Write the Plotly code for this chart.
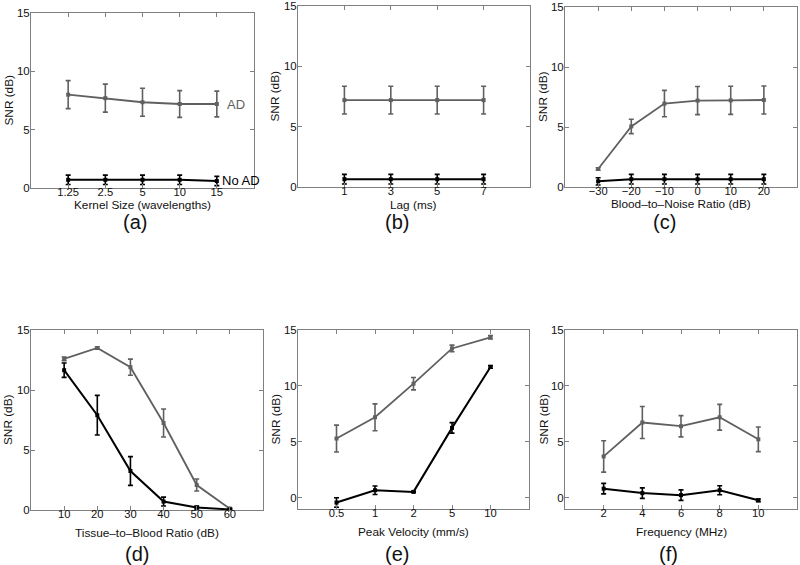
import plotly.graph_objects as go

# ---------------- data ----------------
A_x = ["1.25", "2.5", "5", "10", "15"]
A_ad = [8.0, 7.7, 7.35, 7.2, 7.2]
A_ad_err = [1.2, 1.2, 1.2, 1.15, 1.1]
A_no = [0.7, 0.7, 0.7, 0.7, 0.6]
A_no_err = [0.4, 0.4, 0.4, 0.4, 0.4]

B_x = [1, 3, 5, 7]
B_ad = [7.2, 7.2, 7.2, 7.2]
B_ad_err = [1.15, 1.15, 1.15, 1.15]
B_no = [0.65, 0.65, 0.65, 0.65]
B_no_err = [0.4, 0.4, 0.4, 0.4]

C_x = [-30, -20, -10, 0, 10, 20]
C_ad = [1.5, 5.05, 6.95, 7.2, 7.22, 7.25]
C_ad_err = [0.1, 0.6, 1.1, 1.17, 1.17, 1.17]
C_no = [0.47, 0.65, 0.65, 0.65, 0.65, 0.65]
C_no_err = [0.3, 0.4, 0.4, 0.4, 0.4, 0.4]

D_x = [10, 20, 30, 40, 50, 60]
D_ad = [12.6, 13.5, 11.9, 7.25, 2.08, 0.1]
D_ad_err = [0.15, 0.1, 0.67, 1.17, 0.5, 0.1]
D_no = [11.65, 7.9, 3.25, 0.7, 0.2, 0.05]
D_no_err = [0.6, 1.65, 1.2, 0.37, 0.12, 0.05]

E_x = ["0.5", "1", "2", "5", "10"]
E_ad = [5.3, 7.2, 10.2, 13.35, 14.35]
E_ad_err = [1.2, 1.2, 0.55, 0.3, 0.15]
E_no = [-0.42, 0.68, 0.53, 6.25, 11.7]
E_no_err = [0.42, 0.38, 0.05, 0.47, 0.12]

F_x = [2, 4, 6, 8, 10]
F_ad = [3.7, 6.73, 6.4, 7.2, 5.23]
F_ad_err = [1.4, 1.43, 0.95, 1.15, 1.1]
F_no = [0.82, 0.42, 0.24, 0.68, -0.22]
F_no_err = [0.47, 0.47, 0.47, 0.4, 0.12]

Y_TICKS = [0, 5, 10, 15]
X_TITLES = ["Kernel Size (wavelengths)", "Lag (ms)", "Blood\u2013to\u2013Noise Ratio (dB)",
            "Tissue\u2013to\u2013Blood Ratio (dB)", "Peak Velocity (mm/s)", "Frequency (MHz)"]
PANEL_LABELS = ["(a)", "(b)", "(c)", "(d)", "(e)", "(f)"]
Y_TITLE = "SNR (dB)"
SERIES_NAMES = ["AD", "No AD"]

# ---------------- styling / layout ----------------
W, H = 800, 565
GRAY = "#606060"
BLACK = "#000000"
AXC = "#808080"
TXT = "#111111"
FONT = "Liberation Sans, Arial, sans-serif"

def px_dom_x(a, b):
    return [a / W, b / W]

def px_dom_y(top, bot):
    return [1 - bot / H, 1 - top / H]

panels = [
    dict(x=A_x, ad=A_ad, ade=A_ad_err, no=A_no, noe=A_no_err, cat=True,
         xr=[-1, 5], tv=None, yr=[0, 15], dx=(31, 254), dy=(13, 188),
         lab=(135, 222), xt=205, yt=8),
    dict(x=B_x, ad=B_ad, ade=B_ad_err, no=B_no, noe=B_no_err, cat=False,
         xr=[-1, 9], tv=B_x, yr=[0, 15], dx=(298, 530), dy=(6, 187),
         lab=(397, 222), xt=205, yt=275),
    dict(x=C_x, ad=C_ad, ade=C_ad_err, no=C_no, noe=C_no_err, cat=False,
         xr=[-40, 30], tv=C_x, yr=[0, 15], dx=(565, 797), dy=(7, 187),
         lab=(664, 222), xt=204, yt=543),
    dict(x=D_x, ad=D_ad, ade=D_ad_err, no=D_no, noe=D_no_err, cat=False,
         xr=[0, 70], tv=D_x, yr=[0, 15], dx=(31, 263), dy=(330, 510),
         lab=(137, 554), xt=533, yt=8),
    dict(x=E_x, ad=E_ad, ade=E_ad_err, no=E_no, noe=E_no_err, cat=True,
         xr=[-1, 5], tv=None, yr=[-1, 15], dx=(298, 529), dy=(330, 509),
         lab=(397, 554), xt=532, yt=275),
    dict(x=F_x, ad=F_ad, ade=F_ad_err, no=F_no, noe=F_no_err, cat=False,
         xr=[0, 12], tv=F_x, yr=[-1, 15], dx=(565, 797), dy=(330, 509),
         lab=(668, 554), xt=532, yt=543),
]

fig = go.Figure()
layout = dict(
    template="none",
    width=W, height=H, margin=dict(l=0, r=0, t=0, b=0, pad=0),
    paper_bgcolor="white", plot_bgcolor="white",
    showlegend=False, font=dict(family=FONT, size=12, color=TXT),
)
annotations = []

def paper_ann(text, xpx, ypx, size, angle=0, color=TXT):
    return dict(text=text, x=xpx / W, y=1 - ypx / H, xref="paper", yref="paper",
                showarrow=False, xanchor="center", yanchor="middle", textangle=angle,
                font=dict(size=size, family=FONT, color=color))

for i, p in enumerate(panels):
    n = "" if i == 0 else str(i + 1)
    xa, ya = "x" + n, "y" + n
    for vals, errs, col, nm, lw in [(p["ad"], p["ade"], GRAY, SERIES_NAMES[0], 1.8),
                                    (p["no"], p["noe"], BLACK, SERIES_NAMES[1], 2.0)]:
        fig.add_trace(go.Scatter(
            x=p["x"], y=vals, mode="lines+markers", name=nm,
            line=dict(color=col, width=lw),
            marker=dict(symbol="square", size=4, color=col),
            error_y=dict(type="data", array=errs, visible=True, color=col,
                         thickness=1.6, width=2.5),
            xaxis=xa, yaxis=ya,
        ))
    xaxis = dict(
        domain=px_dom_x(*p["dx"]), anchor=ya, range=p["xr"], automargin=False,
        showgrid=False, zeroline=False, showline=True, linecolor=AXC, linewidth=1,
        mirror="ticks", ticks="inside", ticklen=4, tickcolor=AXC,
        ticklabelstandoff=-6, ticklabeloverflow="allow",
        tickfont=dict(size=11.2, color=TXT, family=FONT),
    )
    if p["cat"]:
        xaxis["type"] = "category"
    else:
        xaxis["tickmode"] = "array"
        xaxis["tickvals"] = p["tv"]
    yaxis = dict(
        domain=px_dom_y(*p["dy"]), anchor=xa, range=p["yr"], automargin=False,
        tickmode="array", tickvals=Y_TICKS,
        showgrid=False, zeroline=False, showline=True, linecolor=AXC, linewidth=1,
        mirror="ticks", ticks="inside", ticklen=4, tickcolor=AXC,
        ticklabelstandoff=-2, ticklabeloverflow="allow",
        tickfont=dict(size=11.5, color=TXT, family=FONT),
    )
    layout["xaxis" + n] = xaxis
    layout["yaxis" + n] = yaxis
    cx = (p["dx"][0] + p["dx"][1]) / 2
    cy = (p["dy"][0] + p["dy"][1]) / 2
    annotations.append(paper_ann(X_TITLES[i], cx, p["xt"], 11.8))
    annotations.append(paper_ann(Y_TITLE, p["yt"], cy, 11.8, angle=-90))
    annotations.append(paper_ann(PANEL_LABELS[i], p["lab"][0], p["lab"][1], 20))

# series labels in panel (a) (category axis: position = category index)
last = len(A_x) - 1
annotations.append(dict(text=SERIES_NAMES[0], x=last, y=A_ad[-1], xref="x", yref="y",
                        showarrow=False, xanchor="left", yanchor="middle", xshift=8,
                        font=dict(size=13, family=FONT, color=GRAY)))
annotations.append(dict(text=SERIES_NAMES[1], x=last, y=A_no[-1], xref="x", yref="y",
                        showarrow=False, xanchor="left", yanchor="middle", xshift=3, yshift=1,
                        font=dict(size=13, family=FONT, color=BLACK)))

layout["annotations"] = annotations
fig.update_layout(**layout)
fig.write_html(
    "out.html",
    config={"displayModeBar": False},
    post_script="document.body.style.margin='0';document.body.style.overflow='hidden';",
)
